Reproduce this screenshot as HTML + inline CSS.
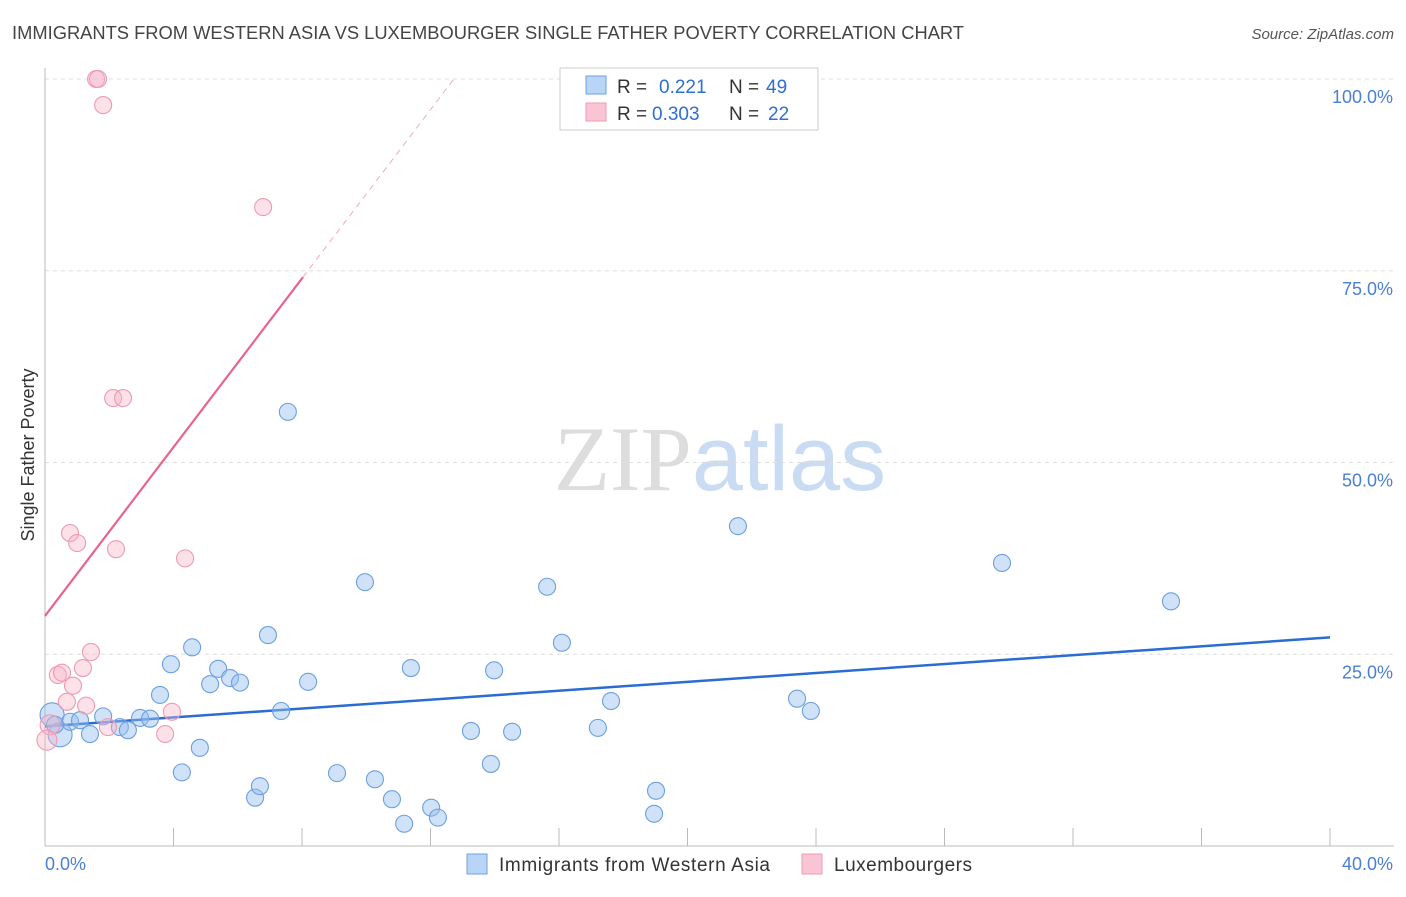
<!DOCTYPE html>
<html><head><meta charset="utf-8"><style>
body{margin:0;background:#fff;font-family:"Liberation Sans",sans-serif;}
svg text{font-family:"Liberation Sans",sans-serif;}
</style></head><body>
<svg id="chart" width="1406" height="892" xmlns="http://www.w3.org/2000/svg">
<text x="12" y="39" font-size="18" fill="#444" textLength="952" lengthAdjust="spacingAndGlyphs">IMMIGRANTS FROM WESTERN ASIA VS LUXEMBOURGER SINGLE FATHER POVERTY CORRELATION CHART</text>
<text x="1394" y="39" font-size="15" fill="#555" font-style="italic" text-anchor="end">Source: ZipAtlas.com</text>
<text x="720" y="490" font-size="92" text-anchor="middle"><tspan fill="#ddd" font-family="Liberation Serif">ZIP</tspan><tspan fill="#c9dcf3">atlas</tspan></text>
<text transform="translate(34,455) rotate(-90)" font-size="18" fill="#333" text-anchor="middle">Single Father Poverty</text>
<g id="grid"></g><g id="axes"></g><g id="trends"></g><g id="points"></g>
<g>
<rect x="560" y="68" width="258" height="62" fill="#fff" stroke="#ccc"/>
<rect x="586" y="76" width="20" height="18" fill="#b8d4f7" stroke="#6fa0e0"/>
<rect x="586" y="103" width="20" height="18" fill="#f9c5d4" stroke="#ee9ab3"/>
<text x="617" y="93" font-size="19" fill="#333">R =</text>
<text x="659" y="93" font-size="19" fill="#2f6fd0">0.221</text>
<text x="729" y="93" font-size="19" fill="#333">N =</text>
<text x="766" y="93" font-size="19" fill="#2f6fd0">49</text>
<text x="617" y="120" font-size="19" fill="#333">R =</text>
<text x="652" y="120" font-size="19" fill="#2f6fd0">0.303</text>
<text x="729" y="120" font-size="19" fill="#333">N =</text>
<text x="768" y="120" font-size="19" fill="#2f6fd0">22</text>
</g>
<g>
<rect x="467" y="854" width="20" height="20" fill="#b8d4f7" stroke="#6fa0e0"/>
<text x="499" y="871" font-size="19" fill="#333" textLength="271">Immigrants from Western Asia</text>
<rect x="802" y="854" width="20" height="20" fill="#f9c5d4" stroke="#ee9ab3"/>
<text x="834" y="871" font-size="19" fill="#333" textLength="138">Luxembourgers</text>
</g>
</svg>
<script>
const blueX=[0.22,0.47,0.78,1.09,1.40,1.81,2.33,2.58,2.96,3.27,3.58,3.92,4.26,4.58,4.82,5.14,5.39,5.76,6.07,6.54,6.69,6.94,7.35,7.56,8.19,9.09,9.96,10.27,10.80,11.18,11.39,12.02,12.23,13.26,13.88,13.98,14.54,15.63,16.09,17.21,17.62,18.96,19.02,21.57,23.41,23.84,29.79,35.05,0.31];
const blueY=[17.1,14.5,16.2,16.4,14.6,16.9,15.5,15.1,16.7,16.6,19.7,23.7,9.6,25.9,12.8,21.1,23.1,21.9,21.3,6.3,7.8,27.5,17.6,56.6,21.4,9.5,34.4,8.7,6.1,2.9,23.2,5.0,3.7,15.0,10.7,22.9,14.9,33.8,26.5,15.4,18.9,4.2,7.2,41.7,19.2,17.6,36.9,31.9,15.8];
const pinkX=[1.59,1.65,1.81,6.79,2.12,2.43,0.78,1.0,2.21,4.36,1.43,1.18,0.4,0.53,0.87,0.68,1.28,3.95,1.96,3.74,0.16,0.06];
const pinkY=[100,100,96.6,83.3,58.4,58.4,40.8,39.5,38.7,37.5,25.3,23.2,22.3,22.6,20.9,18.8,18.3,17.5,15.5,14.6,15.8,13.8];
const blueTrend=[15.6,27.2];
const pinkTrendIntercept=30.0, pinkTrendSlope=5.5;
const yTicks=[25,50,75,100];
const NS="http://www.w3.org/2000/svg";
const xs=v=>45+v*32.125, ys=v=>846-v*7.67;
function mk(tag,attrs,parent){const e=document.createElementNS(NS,tag);for(const k in attrs)e.setAttribute(k,attrs[k]);document.getElementById(parent).appendChild(e);return e;}
yTicks.forEach(t=>{
 const l=mk('line',{x1:45,x2:1394,y1:ys(t),y2:ys(t),stroke:'#ddd','stroke-dasharray':'4,4'},'grid');
 
 
 const tx=mk('text',{x:1393,y:ys(t)+24,'font-size':18,fill:'#4a7fd6','text-anchor':'end'},'grid');
 tx.textContent=t.toFixed(1)+'%';
 
 
});
mk('line',{x1:45,x2:45,y1:68,y2:846,stroke:'#bbb'},'axes');
mk('line',{x1:45,x2:1394,y1:846,y2:846,stroke:'#bbb'},'axes');
for(let i=0;i<=10;i++){mk('line',{x1:xs(i*4),x2:xs(i*4),y1:828,y2:846,stroke:'#bbb'},'axes');}
const x0=mk('text',{x:45,y:870,'font-size':18,fill:'#4a7fd6'},'axes');x0.textContent='0.0%';


const x1=mk('text',{x:1393,y:870,'font-size':18,fill:'#4a7fd6','text-anchor':'end'},'axes');x1.textContent='40.0%';


const bt=mk('line',{x1:xs(0),y1:ys(blueTrend[0]),x2:xs(40),y2:ys(blueTrend[1]),stroke:'#2a6dd2','stroke-width':2.5},'trends');


const pe=8.03, pd=(100-pinkTrendIntercept)/pinkTrendSlope;
const pt=mk('line',{x1:xs(0),y1:ys(pinkTrendIntercept),x2:xs(pe),y2:ys(pinkTrendIntercept+pinkTrendSlope*pe),stroke:'#e8648e','stroke-width':2.2},'trends');


const pdl=mk('line',{x1:xs(pe),y1:ys(pinkTrendIntercept+pinkTrendSlope*pe),x2:xs(pd),y2:ys(100),stroke:'#f0a8bf','stroke-width':1,'stroke-dasharray':'6,5'},'trends');


blueX.forEach((x,i)=>{
 const c=mk('circle',{cx:xs(x),cy:ys(blueY[i]),r:i<2?12:8.5,fill:'rgba(150,190,240,0.45)',stroke:'#6b9fe0','stroke-width':1.1},'points');
 
 
});
pinkX.forEach((x,i)=>{
 const c=mk('circle',{cx:xs(x),cy:ys(pinkY[i]),r:i>=20?10:8.5,fill:'rgba(248,180,200,0.4)',stroke:'#ee9ab3','stroke-width':1.1},'points');
 
 
});
</script>
</body></html>
